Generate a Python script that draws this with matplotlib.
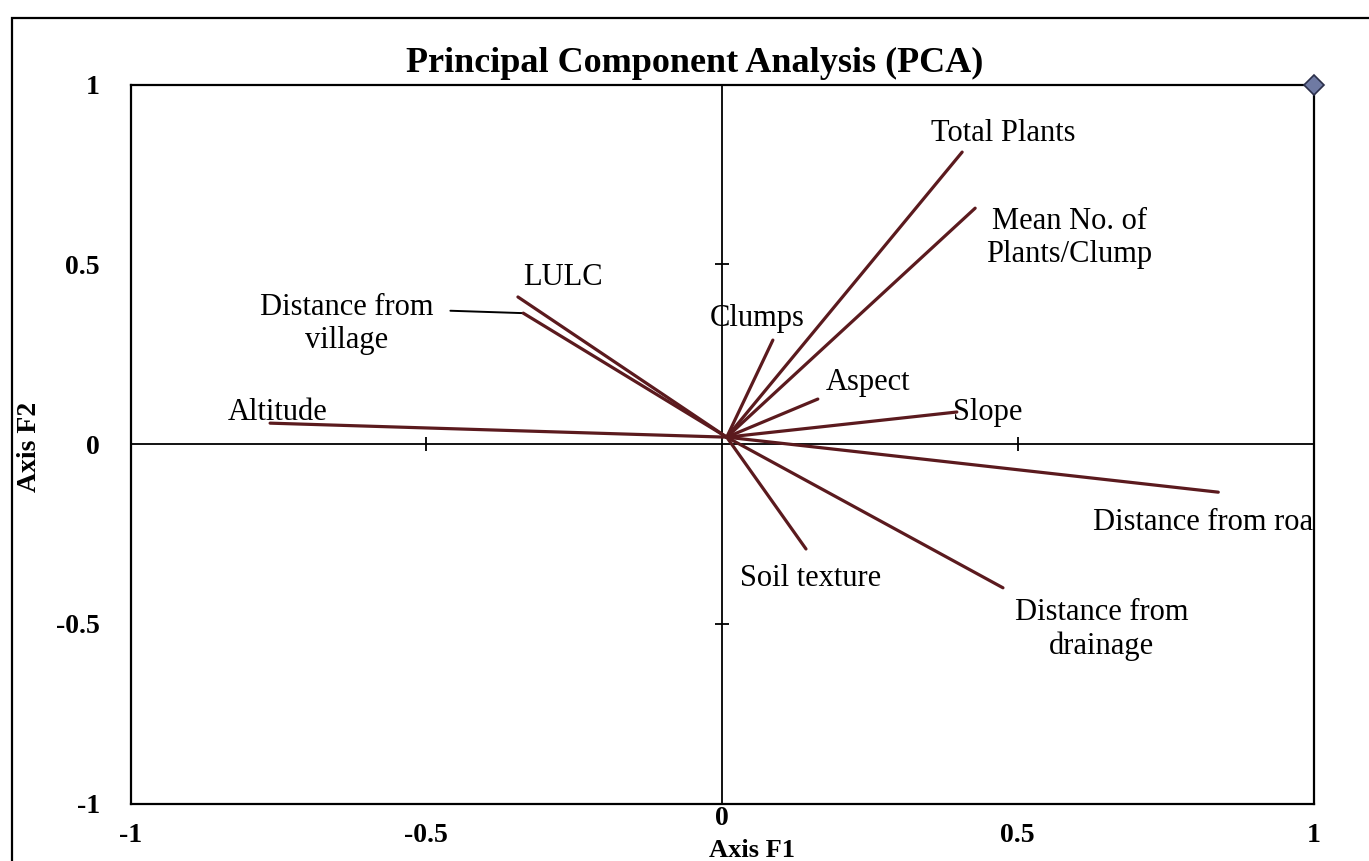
import numpy as np
import matplotlib
matplotlib.use('Agg')
import matplotlib.pyplot as plt
from matplotlib import rc
from matplotlib.patches import Rectangle
from matplotlib.transforms import ScaledTranslation

rc('font', family='Liberation Serif', size=22)

# variable loadings on F1 / F2
variables = ['Altitude', 'Distance from\nvillage', 'LULC', 'Clumps', 'Total Plants',
             'Mean No. of\nPlants/Clump', 'Aspect', 'Slope', 'Distance from road',
             'Soil texture', 'Distance from\ndrainage']
f1 = [-0.764, -0.336, -0.345, 0.086, 0.406, 0.428, 0.162, 0.397, 0.839, 0.142, 0.475]
f2 = [0.058, 0.364, 0.409, 0.289, 0.812, 0.656, 0.125, 0.089, -0.134, -0.292, -0.400]
origin = (0.008, 0.019)

# where the labels sit (data units)
lab_x = [-0.752, -0.634, -0.269, 0.059, 0.475, 0.587, 0.247, 0.450, 0.627, 0.150, 0.642]
lab_y = [0.089, 0.334, 0.462, 0.350, 0.865, 0.573, 0.170, 0.089, -0.217, -0.373, -0.517]
lab_ha = ['center'] * 8 + ['left', 'center', 'center']

ticks = [-1, -0.5, 0, 0.5, 1]
tick_labels = ['-1', '-0.5', '0', '0.5', '1']

vec_color = '#5b1a1e'

fig = plt.figure(figsize=(13.69, 8.61), dpi=100)
ax = fig.add_axes([130.5/1369, 1-803.5/861, 1183/1369, 719/861])

ax.set_xlim(-1, 1)
ax.set_ylim(-1, 1)
for s in ax.spines.values():
    s.set_linewidth(1.6)

ax.set_xticks(ticks)
ax.set_xticklabels(tick_labels, fontweight='bold', fontsize=20)
ax.set_yticks(ticks)
ax.set_yticklabels(tick_labels, fontweight='bold', fontsize=20)
ax.tick_params(axis='x', length=0, pad=14)
ax.tick_params(axis='y', length=0, pad=22)

# the "0" under the x axis sits a little higher in the original
for lbl in ax.get_xticklabels():
    if lbl.get_text() == '0':
        lbl.set_transform(lbl.get_transform() + ScaledTranslation(0, 12/72, fig.dpi_scale_trans))

# axes crossing at zero, with cross ticks
ax.axhline(0, color='black', lw=1.3, zorder=3)
ax.axvline(0, color='black', lw=1.3, zorder=3)
inner = [t for t in ticks if t not in (-1, 0, 1)]
ax.plot(inner, [0] * len(inner), ls='none', marker='|', ms=10, mew=1.3, color='black', zorder=3)
ax.plot([0] * len(inner), inner, ls='none', marker='_', ms=10, mew=1.3, color='black', zorder=3)

for i, name in enumerate(variables):
    ax.plot([origin[0], f1[i]], [origin[1], f2[i]], color=vec_color, lw=2.3,
            solid_capstyle='round', zorder=4)
    if name == 'Distance from\nvillage':
        ax.annotate(name, xy=(f1[i], f2[i]), xytext=(lab_x[i], lab_y[i]),
                    ha='center', va='center', linespacing=1.2, zorder=2,
                    arrowprops=dict(arrowstyle='-', color='black', lw=1.4,
                                    relpos=(1.0, 0.72), shrinkA=10, shrinkB=0))
    else:
        ax.text(lab_x[i], lab_y[i], name, ha=lab_ha[i], va='center',
                linespacing=1.2, zorder=2, clip_on=True)

# the lone point in the corner
ax.plot([1], [1], marker='D', ms=10, mfc='#6f7aa3', mec='#2b2f4a', mew=1.2,
        clip_on=False, zorder=6)

ax.set_ylabel('Axis F2', fontweight='bold', fontsize=20)
ax.yaxis.set_label_coords(-0.075, 0.496)
ax.set_xlabel('Axis F1', fontweight='bold', fontsize=19)
ax.xaxis.set_label_coords(0.525, -0.05)

fig.text(695/1369, 1-63/861, 'Principal Component Analysis (PCA)', ha='center', va='center',
         fontsize=26, fontweight='bold')

# chart area frame (right and bottom edges fall outside the scan)
fig.add_artist(Rectangle((12/1369, -0.1), 1.2, 1.1 - 18/861, transform=fig.transFigure,
                         fill=False, edgecolor='black', lw=1.6))

fig.savefig('out.png', dpi=100)
